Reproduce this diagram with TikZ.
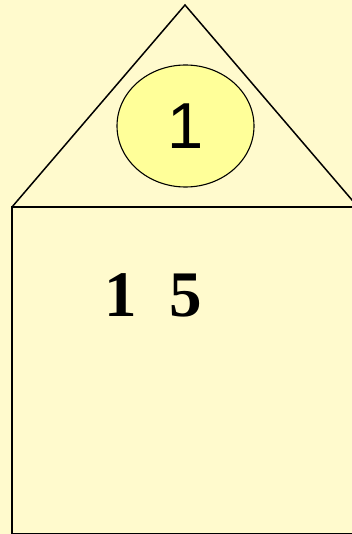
\documentclass[tikz,border=0pt]{standalone}
\usepackage{fontspec}
\setmainfont{Liberation Serif}
\newfontfamily\labelfont{Liberation Sans}
\usetikzlibrary{shapes.geometric}
\definecolor{pageY}{RGB}{255,250,205}
\definecolor{ovalY}{RGB}{255,255,153}

\begin{document}
\begin{tikzpicture}[x=1pt,y=-1pt,
  edge/.style={black,line width=1.5pt,line join=miter},
  oval/.style={ellipse,draw=black,line width=1.1pt,fill=ovalY,minimum width=137pt,minimum height=122pt,
    inner sep=0pt,font=\fontsize{65}{65}\labelfont},
  num/.style={inner sep=0pt,font=\fontsize{65}{65}\selectfont\bfseries}]
\fill[pageY] (0,0) rectangle (352,534);
\useasboundingbox (0,0) rectangle (352,534);
\clip (0,0) rectangle (352,534);
% house: roof and wall
\draw[edge] (12,207) -- (185,5) -- (358,207);
\draw[edge] (12,207) rectangle (370,534.2);
\node[oval] (roof) at (185.5,126) {1};
\node[num] (count) at (153,295) {1\ \ 5};
\end{tikzpicture}
\end{document}
